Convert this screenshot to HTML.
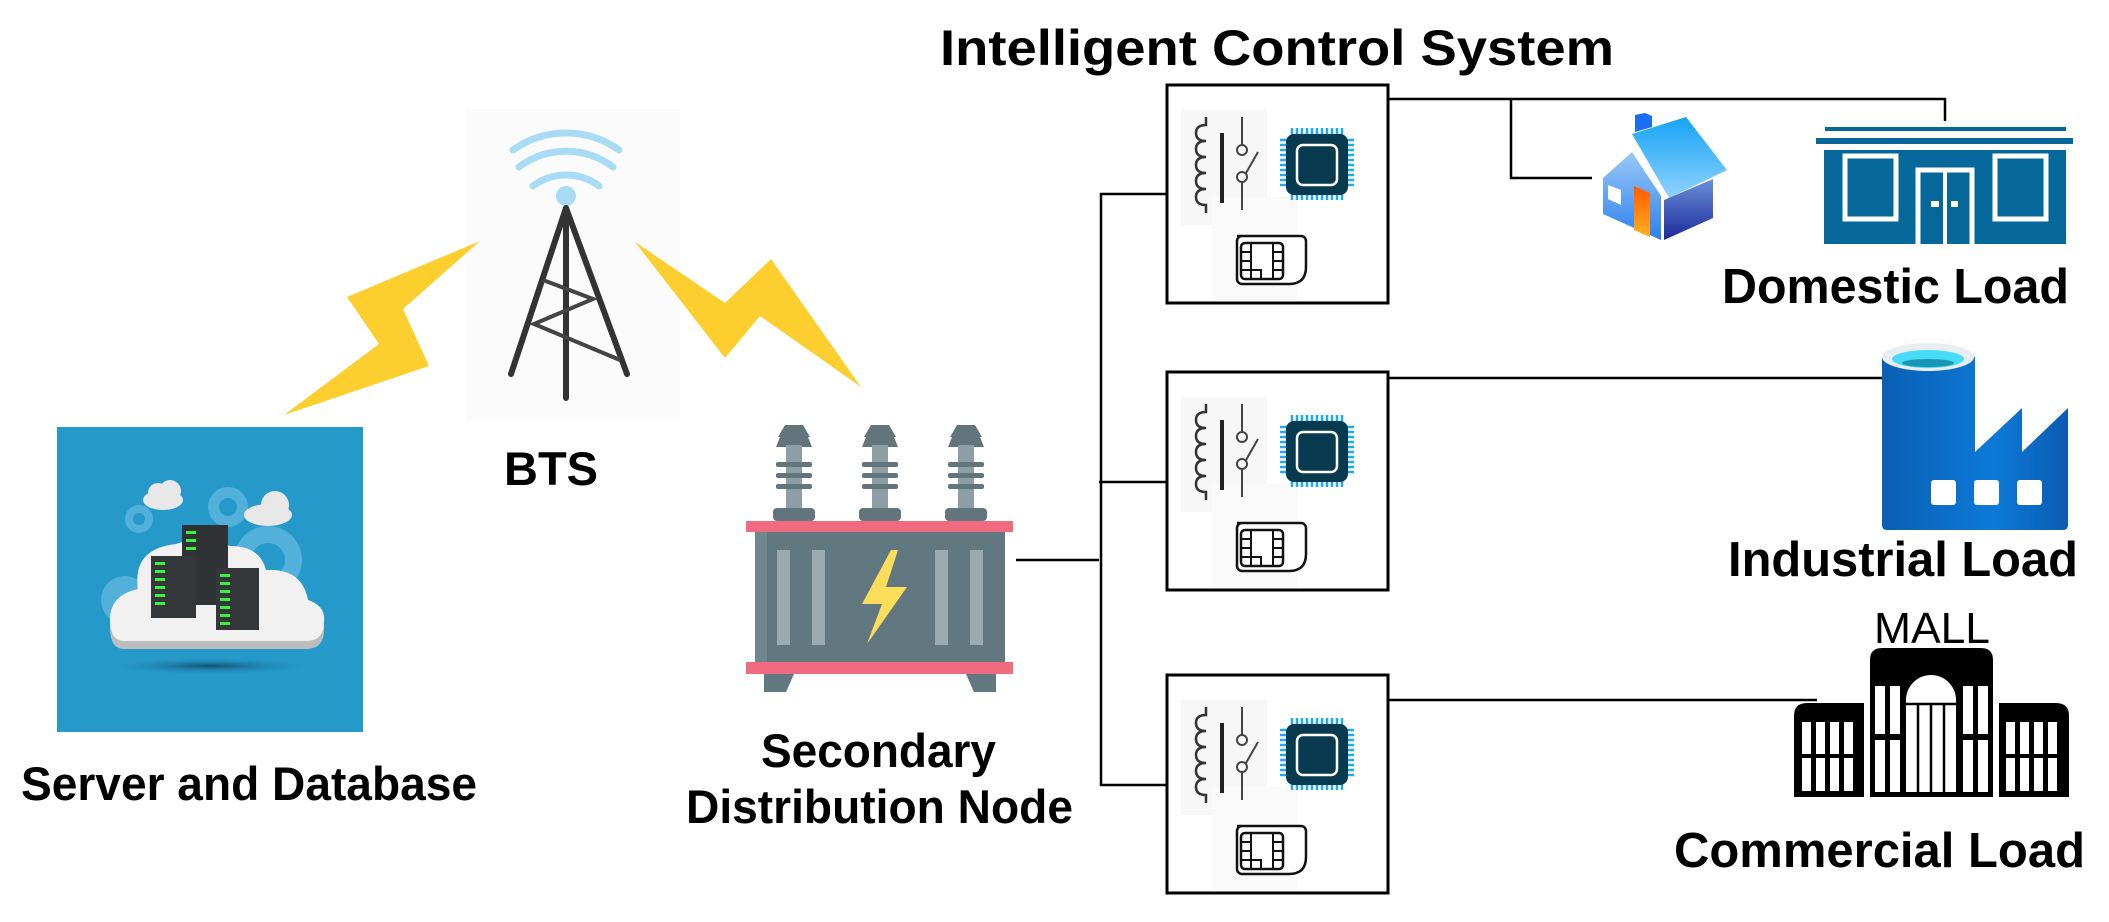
<!DOCTYPE html>
<html><head><meta charset="utf-8"><style>
html,body{margin:0;padding:0;background:#fff;}
svg{display:block;}
text{font-family:"Liberation Sans",Arial,sans-serif;}
</style></head><body>
<svg width="2109" height="922" viewBox="0 0 2109 922" xmlns="http://www.w3.org/2000/svg">
<defs>
<linearGradient id="cyl" x1="0" x2="1" y1="0" y2="0"><stop offset="0" stop-color="#0a5fb3"/><stop offset="0.6" stop-color="#0d7ad8"/><stop offset="1" stop-color="#0a5bb0"/></linearGradient>
<linearGradient id="roof" x1="0" x2="0" y1="0" y2="1"><stop offset="0" stop-color="#16a3f5"/><stop offset="1" stop-color="#8fd3ff"/></linearGradient>
<linearGradient id="wallL" x1="0" x2="0" y1="0" y2="1"><stop offset="0" stop-color="#9ac8f5"/><stop offset="1" stop-color="#2c80f0"/></linearGradient>
<linearGradient id="wallR" x1="0" x2="0" y1="0" y2="1"><stop offset="0" stop-color="#6c90d8"/><stop offset="1" stop-color="#1a2a9a"/></linearGradient>
<linearGradient id="door" x1="0" x2="0" y1="0" y2="1"><stop offset="0" stop-color="#ff5a00"/><stop offset="1" stop-color="#ffb020"/></linearGradient>
<radialGradient id="shadow" cx="0.5" cy="0.5" r="0.5"><stop offset="0" stop-color="#0e3f5a" stop-opacity="0.8"/><stop offset="1" stop-color="#2699cb" stop-opacity="0"/></radialGradient>
<g id="ics">
  <rect x="0" y="0" width="221" height="218" fill="#fff" stroke="#000" stroke-width="3"/>
  <rect x="14" y="25" width="86" height="115" fill="#f7f7f7"/>
  <rect x="45" y="112" width="86" height="104" fill="#fafafa"/>
  <path d="M39 32 v8 q-10 0 -10 8 q0 8 10 8 q-10 0 -10 8 q0 8 10 8 q-10 0 -10 8 q0 8 10 8 q-10 0 -10 8 q0 8 10 8 q-10 0 -10 8 q0 8 10 8 v8" fill="none" stroke="#333" stroke-width="2.5"/>
  <line x1="55" y1="48" x2="55" y2="118" stroke="#222" stroke-width="4"/>
  <line x1="75" y1="32" x2="75" y2="60" stroke="#444" stroke-width="2"/>
  <circle cx="75" cy="65" r="5" fill="none" stroke="#444" stroke-width="2"/>
  <circle cx="75" cy="92" r="5" fill="none" stroke="#444" stroke-width="2"/>
  <line x1="79" y1="88" x2="91" y2="67" stroke="#444" stroke-width="2"/>
  <line x1="75" y1="97" x2="75" y2="125" stroke="#444" stroke-width="2"/>
  <g stroke="#1eaaf0" stroke-width="2.5">
    <path d="M125 43v8M130 43v8M135 43v8M140 43v8M145 43v8M150 43v8M155 43v8M160 43v8M165 43v8M170 43v8M175 43v8"/>
    <path d="M125 107v8M130 107v8M135 107v8M140 107v8M145 107v8M150 107v8M155 107v8M160 107v8M165 107v8M170 107v8M175 107v8"/>
    <path d="M113 55h8M113 60h8M113 65h8M113 70h8M113 75h8M113 80h8M113 85h8M113 90h8M113 95h8M113 100h8"/>
    <path d="M179 55h8M179 60h8M179 65h8M179 70h8M179 75h8M179 80h8M179 85h8M179 90h8M179 95h8M179 100h8"/>
  </g>
  <rect x="119" y="49" width="62" height="61" rx="8" fill="#083a4f"/>
  <rect x="130" y="60" width="40" height="40" rx="6" fill="#083a4f" stroke="#fff" stroke-width="2.5"/>
  <path d="M70 151 h64 a5 5 0 0 1 5 5 v26 q0 17 -17 17 h-47 a5 5 0 0 1 -5 -5 v-38 a5 5 0 0 1 5 -5z" fill="#fff" stroke="#111" stroke-width="2.5"/>
  <rect x="74" y="158" width="42" height="36" rx="4" fill="none" stroke="#111" stroke-width="2.5"/>
  <path d="M74 167h10M74 176h10M74 185h10M84 158v36M106 158v36M106 167h10M106 176h10M106 185h10M84 185h10v9" fill="none" stroke="#111" stroke-width="2"/>
</g>
</defs>

<text x="940" y="65" font-size="50" font-weight="bold" textLength="674" lengthAdjust="spacingAndGlyphs">Intelligent Control System</text>

<rect x="57" y="427" width="306" height="305" fill="#2699cb"/>
<g fill="#58b3dc" opacity="0.9">
  <circle cx="139" cy="519" r="14"/><circle cx="228" cy="507" r="20"/><circle cx="268" cy="560" r="34"/><circle cx="125" cy="600" r="24"/>
</g>
<g fill="#2699cb"><circle cx="139" cy="519" r="6"/><circle cx="228" cy="507" r="9"/><circle cx="268" cy="560" r="17"/></g>
<ellipse cx="210" cy="666" rx="110" ry="9" fill="url(#shadow)"/>
<g fill="#e8e8e8"><ellipse cx="163" cy="500" rx="20" ry="10"/><circle cx="158" cy="493" r="10"/><circle cx="170" cy="491" r="11"/>
<ellipse cx="268" cy="515" rx="24" ry="11"/><circle cx="275" cy="505" r="14"/></g>
<path d="M124 649 q-14 0 -14 -22 q0 -24 28 -30 q-6 -40 38 -45 q28 -10 54 2 q30 0 36 24 q36 -2 42 30 q18 6 16 22 q0 19 -18 19z" fill="#bdbdbd"/>
<path d="M124 641 q-14 0 -14 -22 q0 -24 28 -30 q-6 -40 38 -45 q28 -10 54 2 q30 0 36 24 q36 -2 42 30 q18 6 16 22 q0 19 -18 19z" fill="#f1f1f1"/>
<g>
  <rect x="182" y="525" width="46" height="80" fill="#2f3335"/>
  <rect x="151" y="556" width="45" height="62" fill="#333739"/>
  <rect x="216" y="568" width="43" height="62" fill="#333739"/>
  <g fill="#3cf03c">
    <rect x="186" y="531" width="10" height="3"/><rect x="186" y="539" width="10" height="3"/><rect x="186" y="547" width="10" height="3"/>
    <rect x="155" y="562" width="10" height="3"/><rect x="155" y="570" width="10" height="3"/><rect x="155" y="578" width="10" height="3"/><rect x="155" y="586" width="10" height="3"/><rect x="155" y="594" width="10" height="3"/><rect x="155" y="602" width="10" height="3"/>
    <rect x="220" y="574" width="10" height="3"/><rect x="220" y="582" width="10" height="3"/><rect x="220" y="590" width="10" height="3"/><rect x="220" y="598" width="10" height="3"/><rect x="220" y="606" width="10" height="3"/><rect x="220" y="614" width="10" height="3"/><rect x="220" y="622" width="10" height="3"/>
  </g>
</g>
<text x="21" y="800" font-size="47" font-weight="bold" textLength="456" lengthAdjust="spacingAndGlyphs">Server and Database</text>

<rect x="466" y="109" width="214" height="311" fill="#fbfbfb"/>
<g fill="none" stroke="#a8dcf4" stroke-width="7" stroke-linecap="round">
  <path d="M533 186 A55 55 0 0 1 599 186"/>
  <path d="M519 167 A78 78 0 0 1 613 167"/>
  <path d="M513 150 A91 91 0 0 1 619 150"/>
</g>
<circle cx="566" cy="196" r="10" fill="#a8dcf4"/>
<g stroke="#333" stroke-width="6" stroke-linecap="round" fill="none">
  <path d="M566 208 L511 374 M566 208 L627 374 M566 208 L566 398"/>
</g>
<g stroke="#444" stroke-width="4" fill="none">
  <path d="M543 280 L593 299 L534 324 L620 360"/>
</g>
<text x="504" y="485" font-size="47" font-weight="bold" textLength="94" lengthAdjust="spacingAndGlyphs">BTS</text>

<polygon points="480,241 347,297 379,344 284,415 429,366 403,309" fill="#fccf2e"/>
<polygon points="635,242 725,303 771,259 861,387 760,316 725,358" fill="#fccf2e"/>

<g>
  <g id="ins">
    <path d="M785 425 h18 l7 12 h-32z M780 437 h28 l4 10 h-36z" fill="#62757d"/>
    <rect x="786" y="445" width="16" height="65" fill="#8d9ea5"/>
    <rect x="776" y="462" width="36" height="5" rx="2" fill="#62757d"/>
    <rect x="776" y="473" width="36" height="5" rx="2" fill="#62757d"/>
    <rect x="776" y="484" width="36" height="5" rx="2" fill="#62757d"/>
    <rect x="773" y="508" width="42" height="13" rx="4" fill="#62757d"/>
  </g>
  <use href="#ins" x="86"/>
  <use href="#ins" x="172"/>
  <rect x="755" y="532" width="250" height="130" fill="#627880"/>
  <rect x="755" y="532" width="12" height="130" fill="#72868e"/>
  <rect x="746" y="521" width="267" height="11" fill="#f06b80"/>
  <rect x="746" y="662" width="267" height="12" fill="#f06b80"/>
  <path d="M764 674 h30 l-8 18 h-22z M996 674 h-30 l8 18 h22z" fill="#627880"/>
  <g fill="#9aacb2"><rect x="777" y="550" width="13" height="95"/><rect x="812" y="550" width="13" height="95"/><rect x="935" y="550" width="13" height="95"/><rect x="970" y="550" width="13" height="95"/></g>
  <polygon points="893,550 864,604 884,604 869,644 909,587 888,587 900,550" fill="#fcdd5a" transform="translate(-2,0)"/>
</g>
<text x="761" y="767" font-size="47" font-weight="bold" textLength="235" lengthAdjust="spacingAndGlyphs">Secondary</text>
<text x="686" y="823" font-size="47" font-weight="bold" textLength="387" lengthAdjust="spacingAndGlyphs">Distribution Node</text>

<g stroke="#000" stroke-width="2.5" fill="none">
  <path d="M1016 560 H1099"/>
  <path d="M1168 194 H1101 V785 H1168"/>
  <path d="M1099 482 H1168"/>
  <path d="M1388 99 H1945 V121"/>
  <path d="M1511 99 V178 H1592"/>
  <path d="M1388 378 H1883"/>
  <path d="M1388 700 H1817"/>
</g>

<use href="#ics" x="1167" y="85"/>
<use href="#ics" x="1167" y="372"/>
<use href="#ics" x="1167" y="675"/>

<polygon points="1635,115 1645,113 1652,116 1652,127 1635,132" fill="#1a6df5"/>
<polygon points="1632,134 1686,117 1727,170 1669,198" fill="url(#roof)"/>
<polygon points="1598,170 1632,143 1669,197 1665,200 1632,152 1600,175" fill="#fff"/>
<polygon points="1603,178 1632,152 1661,196 1661,240 1603,214" fill="url(#wallL)"/>
<polygon points="1664,200 1713,179 1713,218 1664,240" fill="url(#wallR)"/>
<polygon points="1634,186 1650,193 1650,237 1634,230" fill="url(#door)"/>
<polygon points="1608,185 1621,190 1621,205 1608,199" fill="#fff"/>

<g fill="#05679a">
  <rect x="1825" y="127" width="241" height="4"/>
  <rect x="1816" y="138" width="257" height="6"/>
  <rect x="1824" y="150" width="242" height="94"/>
</g>
<g fill="none" stroke="#fff" stroke-width="5">
  <rect x="1845" y="156" width="51" height="63"/>
  <rect x="1995" y="156" width="51" height="63"/>
</g>
<path d="M1918 244 V170 H1972 V244" fill="none" stroke="#fff" stroke-width="5"/>
<line x1="1945" y1="172" x2="1945" y2="244" stroke="#fff" stroke-width="4"/>
<rect x="1931" y="201" width="8" height="6" fill="#fff"/><rect x="1951" y="201" width="7" height="6" fill="#fff"/>
<text x="1722" y="303" font-size="49" font-weight="bold" textLength="347" lengthAdjust="spacingAndGlyphs">Domestic Load</text>

<path d="M1882 357 V525 q0 5 5 5 H2063 q5 0 5 -5 V408 L2022 452 V408 L1975 452 V357z" fill="url(#cyl)"/>
<ellipse cx="1928" cy="357" rx="46" ry="14" fill="#e9eef2"/>
<ellipse cx="1928" cy="359" rx="36" ry="9" fill="#49dcf8"/>
<ellipse cx="1928" cy="363" rx="26" ry="4" fill="#1796b8"/>
<g fill="#fff"><rect x="1931" y="480" width="25" height="25" rx="3"/><rect x="1974" y="480" width="25" height="25" rx="3"/><rect x="2017" y="480" width="25" height="25" rx="3"/></g>
<text x="1728" y="576" font-size="49" font-weight="bold" textLength="350" lengthAdjust="spacingAndGlyphs">Industrial Load</text>

<text x="1874" y="643" font-size="44" textLength="116" lengthAdjust="spacingAndGlyphs">MALL</text>
<g fill="#000">
  <path d="M1870 797 V660 q0 -12 12 -12 H1981 q12 0 12 12 V797z"/>
  <path d="M1794 797 V716 q0 -13 13 -13 H1864 V797z"/>
  <path d="M1999 797 V703 H2056 q13 0 13 13 V797z"/>
</g>
<g fill="#fff">
  <rect x="1875" y="686" width="10" height="48"/><rect x="1890" y="686" width="10" height="48"/>
  <rect x="1875" y="740" width="10" height="52"/><rect x="1890" y="740" width="10" height="52"/>
  <rect x="1963" y="686" width="10" height="48"/><rect x="1978" y="686" width="10" height="48"/>
  <rect x="1963" y="740" width="10" height="52"/><rect x="1978" y="740" width="10" height="52"/>
  <path d="M1906 792 V700 a25 25 0 0 1 50 0 V792z"/>
  <rect x="1802" y="722" width="9" height="32"/><rect x="1816" y="722" width="9" height="32"/><rect x="1830" y="722" width="9" height="32"/><rect x="1844" y="722" width="9" height="32"/>
  <rect x="1802" y="758" width="9" height="33"/><rect x="1816" y="758" width="9" height="33"/><rect x="1830" y="758" width="9" height="33"/><rect x="1844" y="758" width="9" height="33"/>
  <rect x="2006" y="722" width="9" height="32"/><rect x="2020" y="722" width="9" height="32"/><rect x="2034" y="722" width="9" height="32"/><rect x="2048" y="722" width="9" height="32"/>
  <rect x="2006" y="758" width="9" height="33"/><rect x="2020" y="758" width="9" height="33"/><rect x="2034" y="758" width="9" height="33"/><rect x="2048" y="758" width="9" height="33"/>
</g>
<g stroke="#000" stroke-width="2.5"><path d="M1906 704 H1956 M1918 704 V792 M1931 704 V792 M1944 704 V792"/></g>
<text x="1674" y="867" font-size="49" font-weight="bold" textLength="411" lengthAdjust="spacingAndGlyphs">Commercial Load</text>
</svg>
</body></html>
